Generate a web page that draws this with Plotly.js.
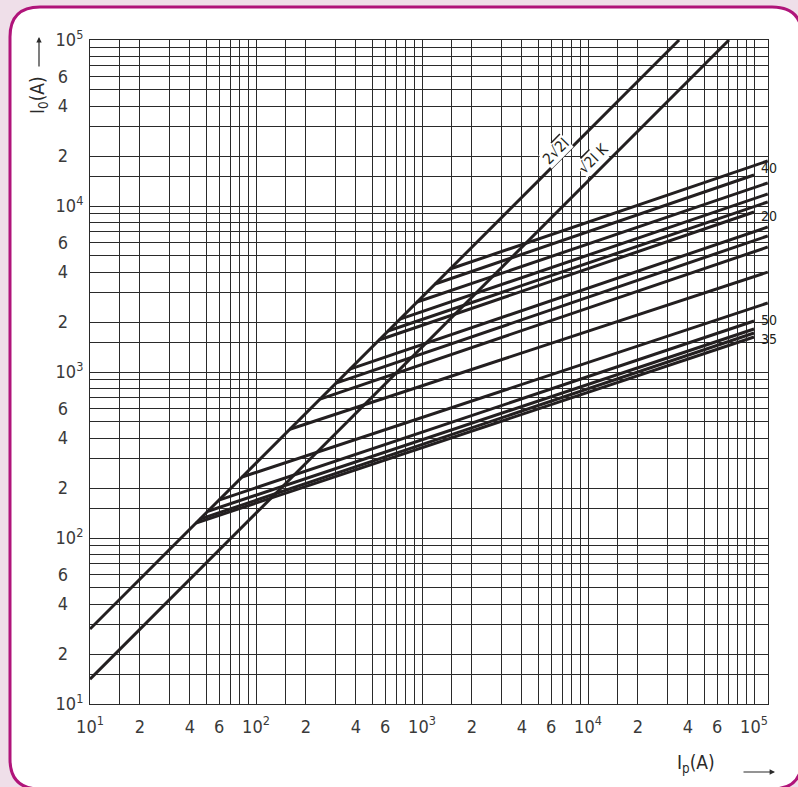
<!DOCTYPE html>
<html><head><meta charset="utf-8">
<script src="https://cdn.plot.ly/plotly-3.0.1.min.js"></script>
<style>html,body{margin:0;padding:0;background:#efdfe9;}#chart{width:798px;height:787px;}</style>
</head><body><div id="chart"></div>
<script>
// ---- data ----
// reference lines: 2·√2·Ip and √2·Ip
const guideNames = ['2√2 I', '√2 I K'];
const guideX0 = [10, 10];
const guideY0 = [28.3, 14.1];
const guideX1 = [35400, 70700];
const guideY1 = [100000, 100000];

// cut-off (let-through) lines: knee point on the 2√2 line, then straight to the right edge
const kneeX = [1475, 1198, 933, 737, 624, 551, 368, 303, 243, 160, 82.4, 59.8, 51.4, 46, 43.5];
const kneeY = [4171, 3388, 2639, 2084, 1765, 1558, 1041, 857, 687, 452, 233, 169, 145, 130, 123];
const endX  = [121000, 100000, 121000, 121000, 121000, 100000, 121000, 121000, 121000, 121000, 121000, 100000, 100000, 100000, 100000];
const endY  = [18670, 15380, 13760, 11810, 10570, 9200, 7470, 6600, 5660, 4000, 2605, 2028, 1815, 1718, 1625];

// visible (cropped) curve labels
const curveLabels = ['40', '20', '50', '35'];
const curveLabelPy = [168, 216, 320, 339];

// axis grid / tick labels
const decades = [1, 2, 3, 4];
const gridMantissa = [1, 1.5, 2, 3, 4, 5, 6, 7, 8, 9];
const labelMantissa = [2, 4, 6];

// ---- build ----
const INK = '#231f20';
const FONT = '"Liberation Sans Narrow", "DejaVu Sans Condensed", "Open Sans", sans-serif';
const L = 90, R = 768, T = 40, B = 704, W = 798, H = 787;
const PX = p => (p - L) / (R - L);
const PY = p => (B - p) / (B - T);

const gridVals = [], xText = [], yText = [];
const pad = '\u00a0\u00a0\u00a0';
decades.forEach(d => {
  gridMantissa.forEach(m => {
    gridVals.push(m * Math.pow(10, d));
    if (m === 1) { xText.push('10<sup>' + d + '</sup>'); yText.push('10<sup>' + d + '</sup>'); }
    else if (labelMantissa.includes(m)) { xText.push(String(m)); yText.push(String(m) + pad); }
    else { xText.push(''); yText.push(''); }
  });
});
gridVals.push(100000); xText.push('10<sup>5</sup>'); yText.push('10<sup>5</sup>');

const traces = [];
guideNames.forEach((n, i) => traces.push({
  type: 'scatter', mode: 'lines', name: n,
  x: [guideX0[i], guideX1[i]], y: [guideY0[i], guideY1[i]],
  line: {color: INK, width: 3}, hoverinfo: 'skip'
}));
kneeX.forEach((k, i) => traces.push({
  type: 'scatter', mode: 'lines',
  x: [kneeX[i], endX[i]], y: [kneeY[i], endY[i]],
  line: {color: INK, width: 3}, hoverinfo: 'skip'
}));

// rounded border (decoration)
const bl = 10, bt = 7, br = 802, bb = 789, rr = 30;
const pt = (x, y) => PX(x) + ',' + PY(y);
const borderPath = 'M' + pt(bl + rr, bt) + ' L' + pt(br - rr, bt) + ' Q' + pt(br, bt) + ' ' + pt(br, bt + rr) +
  ' L' + pt(br, bb - rr) + ' Q' + pt(br, bb) + ' ' + pt(br - rr, bb) +
  ' L' + pt(bl + rr, bb) + ' Q' + pt(bl, bb) + ' ' + pt(bl, bb - rr) +
  ' L' + pt(bl, bt + rr) + ' Q' + pt(bl, bt) + ' ' + pt(bl + rr, bt) + ' Z';

const axisCommon = {
  type: 'log', tickmode: 'array', tickvals: gridVals,
  showgrid: true, gridcolor: '#2a2a2a', gridwidth: 1,
  ticks: '', showline: true, mirror: true, linecolor: '#2a2a2a', linewidth: 1,
  zeroline: false, tickfont: {family: FONT, size: 18, color: '#3a3a3a'}
};

const annotations = [];
curveLabels.forEach((t, i) => annotations.push({
  xref: 'paper', yref: 'paper', x: PX(769), y: PY(curveLabelPy[i]),
  text: t, showarrow: false, xanchor: 'center', yanchor: 'middle',
  font: {family: FONT, size: 14, color: INK}, borderpad: 0
}));
annotations.push({xref: 'paper', yref: 'paper', x: PX(556), y: PY(151), xanchor: 'center', yanchor: 'middle',
  text: '2√<span style="text-decoration:overline">2I</span>',
  textangle: -45, showarrow: false, font: {family: FONT, size: 15, color: INK}, bgcolor: 'white', borderpad: 0});
annotations.push({xref: 'paper', yref: 'paper', x: PX(593), y: PY(159), xanchor: 'center', yanchor: 'middle',
  text: '√<span style="text-decoration:overline">2I</span> K',
  textangle: -45, showarrow: false, font: {family: FONT, size: 15, color: INK}, bgcolor: 'white', borderpad: 0});
// axis titles
annotations.push({xref: 'paper', yref: 'paper', x: PX(38), y: PY(95), xanchor: 'center', yanchor: 'middle',
  text: 'I<sub>0</sub>(A)', textangle: -90,
  showarrow: false, font: {family: FONT, size: 19, color: '#2a2a2a'}});
annotations.push({xref: 'paper', yref: 'paper', x: PX(696), y: PY(763), xanchor: 'center', yanchor: 'middle',
  text: 'I<sub>p</sub>(A)',
  showarrow: false, font: {family: FONT, size: 19, color: '#2a2a2a'}});
annotations.push({xref: 'paper', yref: 'paper', x: PX(39), y: PY(37), ax: 0, ay: 31, text: '', showarrow: true,
  arrowhead: 2, arrowsize: 0.9, arrowwidth: 1.2, arrowcolor: '#2a2a2a'});
annotations.push({xref: 'paper', yref: 'paper', x: PX(775), y: PY(772), ax: -33, ay: 0, text: '', showarrow: true,
  arrowhead: 2, arrowsize: 0.9, arrowwidth: 1.2, arrowcolor: '#2a2a2a'});

const layout = {
  width: W, height: H,
  margin: {l: L, r: W - R, t: T, b: H - B, pad: 0},
  paper_bgcolor: '#efdfe9', plot_bgcolor: 'white',
  showlegend: false,
  xaxis: Object.assign({}, axisCommon, {range: [1, Math.log10(121400)], ticktext: xText, ticklabelstandoff: 6}),
  yaxis: Object.assign({}, axisCommon, {range: [1, 5], ticktext: yText, ticklabelstandoff: 2}),
  shapes: [{type: 'path', xref: 'paper', yref: 'paper', path: borderPath, layer: 'below',
    fillcolor: 'white', line: {color: '#b0147a', width: 3}}],
  annotations: annotations
};

Plotly.newPlot('chart', traces, layout, {staticPlot: true, displayModeBar: false});
</script>
</body></html>
